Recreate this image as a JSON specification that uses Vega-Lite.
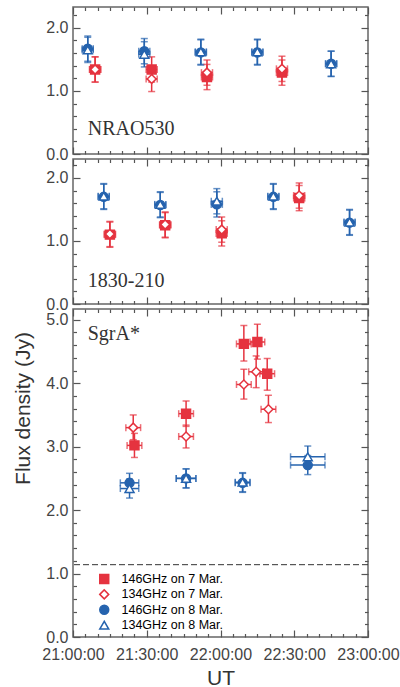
{
  "$schema": "https://vega.github.io/schema/vega-lite/v6.json",
  "padding": {"left": 12, "top": 5, "right": 5, "bottom": 0},
  "background": "white",
  "spacing": 5,
  "bounds": "flush",
  "config": {
    "view": {"stroke": "#666", "strokeWidth": 1.5},
    "axis": {"domain": false, "grid": false, "labelFont": "Liberation Sans", "labelFontSize": 16, "labelColor": "#444", "tickColor": "#555", "tickWidth": 1.2, "titleFont": "Liberation Sans", "titleFontSize": 21, "titleFontWeight": "normal", "titleColor": "#333"}
  },
  "resolve": {"scale": {"y": "independent"}, "legend": {"shape": "independent", "fill": "independent", "stroke": "independent", "color": "independent"}},
  "datasets": {
    "obs": [
      {"src":"NRAO530","series":"146GHz on 8 Mar.","t":"2000-01-01T21:06:00","t0":"2000-01-01T21:03:45","t1":"2000-01-01T21:08:15","f":1.67,"f0":1.47,"f1":1.87},
      {"src":"NRAO530","series":"134GHz on 8 Mar.","t":"2000-01-01T21:06:00","t0":"2000-01-01T21:03:45","t1":"2000-01-01T21:08:15","f":1.65,"f0":1.45,"f1":1.85},
      {"src":"NRAO530","series":"146GHz on 7 Mar.","t":"2000-01-01T21:09:00","t0":"2000-01-01T21:06:45","t1":"2000-01-01T21:11:15","f":1.34,"f0":1.14,"f1":1.54},
      {"src":"NRAO530","series":"134GHz on 7 Mar.","t":"2000-01-01T21:09:00","t0":"2000-01-01T21:06:45","t1":"2000-01-01T21:11:15","f":1.34,"f0":1.14,"f1":1.54},
      {"src":"NRAO530","series":"146GHz on 8 Mar.","t":"2000-01-01T21:29:00","t0":"2000-01-01T21:26:45","t1":"2000-01-01T21:31:15","f":1.63,"f0":1.43,"f1":1.83},
      {"src":"NRAO530","series":"134GHz on 8 Mar.","t":"2000-01-01T21:29:00","t0":"2000-01-01T21:26:45","t1":"2000-01-01T21:31:15","f":1.58,"f0":1.38,"f1":1.78},
      {"src":"NRAO530","series":"146GHz on 7 Mar.","t":"2000-01-01T21:32:00","t0":"2000-01-01T21:29:45","t1":"2000-01-01T21:34:15","f":1.34,"f0":1.14,"f1":1.54},
      {"src":"NRAO530","series":"134GHz on 7 Mar.","t":"2000-01-01T21:32:00","t0":"2000-01-01T21:29:45","t1":"2000-01-01T21:34:15","f":1.19,"f0":0.99,"f1":1.39},
      {"src":"NRAO530","series":"146GHz on 8 Mar.","t":"2000-01-01T21:52:00","t0":"2000-01-01T21:49:45","t1":"2000-01-01T21:54:15","f":1.61,"f0":1.41,"f1":1.81},
      {"src":"NRAO530","series":"134GHz on 8 Mar.","t":"2000-01-01T21:52:00","t0":"2000-01-01T21:49:45","t1":"2000-01-01T21:54:15","f":1.62,"f0":1.42,"f1":1.82},
      {"src":"NRAO530","series":"146GHz on 7 Mar.","t":"2000-01-01T21:54:30","t0":"2000-01-01T21:52:15","t1":"2000-01-01T21:56:45","f":1.22,"f0":1.02,"f1":1.42},
      {"src":"NRAO530","series":"134GHz on 7 Mar.","t":"2000-01-01T21:54:30","t0":"2000-01-01T21:52:15","t1":"2000-01-01T21:56:45","f":1.29,"f0":1.09,"f1":1.49},
      {"src":"NRAO530","series":"146GHz on 8 Mar.","t":"2000-01-01T22:15:00","t0":"2000-01-01T22:12:45","t1":"2000-01-01T22:17:15","f":1.61,"f0":1.41,"f1":1.81},
      {"src":"NRAO530","series":"134GHz on 8 Mar.","t":"2000-01-01T22:15:00","t0":"2000-01-01T22:12:45","t1":"2000-01-01T22:17:15","f":1.62,"f0":1.42,"f1":1.82},
      {"src":"NRAO530","series":"146GHz on 7 Mar.","t":"2000-01-01T22:25:00","t0":"2000-01-01T22:22:45","t1":"2000-01-01T22:27:15","f":1.29,"f0":1.09,"f1":1.49},
      {"src":"NRAO530","series":"134GHz on 7 Mar.","t":"2000-01-01T22:25:00","t0":"2000-01-01T22:22:45","t1":"2000-01-01T22:27:15","f":1.35,"f0":1.15,"f1":1.55},
      {"src":"NRAO530","series":"146GHz on 8 Mar.","t":"2000-01-01T22:45:00","t0":"2000-01-01T22:42:45","t1":"2000-01-01T22:47:15","f":1.43,"f0":1.23,"f1":1.63},
      {"src":"NRAO530","series":"134GHz on 8 Mar.","t":"2000-01-01T22:45:00","t0":"2000-01-01T22:42:45","t1":"2000-01-01T22:47:15","f":1.43,"f0":1.23,"f1":1.63},

      {"src":"1830-210","series":"146GHz on 8 Mar.","t":"2000-01-01T21:12:30","t0":"2000-01-01T21:10:15","t1":"2000-01-01T21:14:45","f":1.70,"f0":1.50,"f1":1.90},
      {"src":"1830-210","series":"134GHz on 8 Mar.","t":"2000-01-01T21:12:30","t0":"2000-01-01T21:10:15","t1":"2000-01-01T21:14:45","f":1.71,"f0":1.51,"f1":1.91},
      {"src":"1830-210","series":"146GHz on 7 Mar.","t":"2000-01-01T21:15:00","t0":"2000-01-01T21:12:45","t1":"2000-01-01T21:17:15","f":1.10,"f0":0.90,"f1":1.30},
      {"src":"1830-210","series":"134GHz on 7 Mar.","t":"2000-01-01T21:15:00","t0":"2000-01-01T21:12:45","t1":"2000-01-01T21:17:15","f":1.11,"f0":0.91,"f1":1.31},
      {"src":"1830-210","series":"146GHz on 8 Mar.","t":"2000-01-01T21:35:30","t0":"2000-01-01T21:33:15","t1":"2000-01-01T21:37:45","f":1.57,"f0":1.37,"f1":1.77},
      {"src":"1830-210","series":"134GHz on 8 Mar.","t":"2000-01-01T21:35:30","t0":"2000-01-01T21:33:15","t1":"2000-01-01T21:37:45","f":1.58,"f0":1.38,"f1":1.78},
      {"src":"1830-210","series":"146GHz on 7 Mar.","t":"2000-01-01T21:37:30","t0":"2000-01-01T21:35:15","t1":"2000-01-01T21:39:45","f":1.25,"f0":1.05,"f1":1.45},
      {"src":"1830-210","series":"134GHz on 7 Mar.","t":"2000-01-01T21:37:30","t0":"2000-01-01T21:35:15","t1":"2000-01-01T21:39:45","f":1.26,"f0":1.06,"f1":1.46},
      {"src":"1830-210","series":"146GHz on 8 Mar.","t":"2000-01-01T21:58:30","t0":"2000-01-01T21:56:15","t1":"2000-01-01T22:00:45","f":1.58,"f0":1.38,"f1":1.78},
      {"src":"1830-210","series":"134GHz on 8 Mar.","t":"2000-01-01T21:58:30","t0":"2000-01-01T21:56:15","t1":"2000-01-01T22:00:45","f":1.63,"f0":1.43,"f1":1.83},
      {"src":"1830-210","series":"146GHz on 7 Mar.","t":"2000-01-01T22:00:30","t0":"2000-01-01T21:58:15","t1":"2000-01-01T22:02:45","f":1.12,"f0":0.92,"f1":1.32},
      {"src":"1830-210","series":"134GHz on 7 Mar.","t":"2000-01-01T22:00:30","t0":"2000-01-01T21:58:15","t1":"2000-01-01T22:02:45","f":1.18,"f0":0.98,"f1":1.38},
      {"src":"1830-210","series":"146GHz on 8 Mar.","t":"2000-01-01T22:21:30","t0":"2000-01-01T22:19:15","t1":"2000-01-01T22:23:45","f":1.70,"f0":1.50,"f1":1.90},
      {"src":"1830-210","series":"134GHz on 8 Mar.","t":"2000-01-01T22:21:30","t0":"2000-01-01T22:19:15","t1":"2000-01-01T22:23:45","f":1.71,"f0":1.51,"f1":1.91},
      {"src":"1830-210","series":"146GHz on 7 Mar.","t":"2000-01-01T22:32:00","t0":"2000-01-01T22:29:45","t1":"2000-01-01T22:34:15","f":1.68,"f0":1.48,"f1":1.88},
      {"src":"1830-210","series":"134GHz on 7 Mar.","t":"2000-01-01T22:32:00","t0":"2000-01-01T22:29:45","t1":"2000-01-01T22:34:15","f":1.72,"f0":1.52,"f1":1.92},
      {"src":"1830-210","series":"146GHz on 8 Mar.","t":"2000-01-01T22:52:30","t0":"2000-01-01T22:50:15","t1":"2000-01-01T22:54:45","f":1.29,"f0":1.09,"f1":1.49},
      {"src":"1830-210","series":"134GHz on 8 Mar.","t":"2000-01-01T22:52:30","t0":"2000-01-01T22:50:15","t1":"2000-01-01T22:54:45","f":1.30,"f0":1.10,"f1":1.50},

      {"src":"SgrA*","series":"146GHz on 7 Mar.","t":"2000-01-01T21:25:00","t0":"2000-01-01T21:22:00","t1":"2000-01-01T21:28:00","f":3.02,"f0":2.83,"f1":3.21},
      {"src":"SgrA*","series":"134GHz on 7 Mar.","t":"2000-01-01T21:24:30","t0":"2000-01-01T21:21:30","t1":"2000-01-01T21:27:30","f":3.30,"f0":3.11,"f1":3.50},
      {"src":"SgrA*","series":"146GHz on 7 Mar.","t":"2000-01-01T21:46:00","t0":"2000-01-01T21:43:00","t1":"2000-01-01T21:49:00","f":3.52,"f0":3.32,"f1":3.72},
      {"src":"SgrA*","series":"134GHz on 7 Mar.","t":"2000-01-01T21:46:00","t0":"2000-01-01T21:43:00","t1":"2000-01-01T21:49:00","f":3.16,"f0":2.98,"f1":3.34},
      {"src":"SgrA*","series":"146GHz on 7 Mar.","t":"2000-01-01T22:09:30","t0":"2000-01-01T22:06:30","t1":"2000-01-01T22:12:30","f":4.62,"f0":4.35,"f1":4.91},
      {"src":"SgrA*","series":"134GHz on 7 Mar.","t":"2000-01-01T22:09:30","t0":"2000-01-01T22:06:30","t1":"2000-01-01T22:12:30","f":3.98,"f0":3.75,"f1":4.22},
      {"src":"SgrA*","series":"146GHz on 7 Mar.","t":"2000-01-01T22:15:00","t0":"2000-01-01T22:12:00","t1":"2000-01-01T22:18:00","f":4.65,"f0":4.38,"f1":4.93},
      {"src":"SgrA*","series":"134GHz on 7 Mar.","t":"2000-01-01T22:14:30","t0":"2000-01-01T22:11:30","t1":"2000-01-01T22:17:30","f":4.18,"f0":3.93,"f1":4.43},
      {"src":"SgrA*","series":"146GHz on 7 Mar.","t":"2000-01-01T22:19:00","t0":"2000-01-01T22:16:00","t1":"2000-01-01T22:22:00","f":4.15,"f0":3.89,"f1":4.39},
      {"src":"SgrA*","series":"134GHz on 7 Mar.","t":"2000-01-01T22:19:30","t0":"2000-01-01T22:16:30","t1":"2000-01-01T22:22:30","f":3.59,"f0":3.38,"f1":3.81},
      {"src":"SgrA*","series":"146GHz on 8 Mar.","t":"2000-01-01T21:23:00","t0":"2000-01-01T21:19:15","t1":"2000-01-01T21:26:45","f":2.43,"f0":2.28,"f1":2.58},
      {"src":"SgrA*","series":"134GHz on 8 Mar.","t":"2000-01-01T21:23:00","t0":"2000-01-01T21:19:15","t1":"2000-01-01T21:26:45","f":2.34,"f0":2.19,"f1":2.49},
      {"src":"SgrA*","series":"146GHz on 8 Mar.","t":"2000-01-01T21:46:00","t0":"2000-01-01T21:42:00","t1":"2000-01-01T21:50:00","f":2.50,"f0":2.35,"f1":2.65},
      {"src":"SgrA*","series":"134GHz on 8 Mar.","t":"2000-01-01T21:46:00","t0":"2000-01-01T21:42:00","t1":"2000-01-01T21:50:00","f":2.50,"f0":2.35,"f1":2.65},
      {"src":"SgrA*","series":"146GHz on 8 Mar.","t":"2000-01-01T22:09:00","t0":"2000-01-01T22:06:00","t1":"2000-01-01T22:12:00","f":2.43,"f0":2.28,"f1":2.58},
      {"src":"SgrA*","series":"134GHz on 8 Mar.","t":"2000-01-01T22:09:00","t0":"2000-01-01T22:06:00","t1":"2000-01-01T22:12:00","f":2.44,"f0":2.29,"f1":2.59},
      {"src":"SgrA*","series":"146GHz on 8 Mar.","t":"2000-01-01T22:35:30","t0":"2000-01-01T22:28:30","t1":"2000-01-01T22:42:30","f":2.71,"f0":2.56,"f1":2.86},
      {"src":"SgrA*","series":"134GHz on 8 Mar.","t":"2000-01-01T22:35:30","t0":"2000-01-01T22:28:30","t1":"2000-01-01T22:42:30","f":2.84,"f0":2.68,"f1":3.01}
    ]
  },
  "data": {"name": "obs"},
  "vconcat": [
    {
      "width": 295, "height": 147,
      "transform": [{"filter": "datum.src === 'NRAO530'"}],
      "resolve": {"axis": {"x": "independent", "y": "independent"}},
      "layer": [
        {"mark": {"type": "rule", "strokeWidth": 1.5},
         "encoding": {
           "x": {"field": "t", "type": "temporal", "scale": {"domain": [{"year":2000,"month":1,"date":1,"hours":21},{"year":2000,"month":1,"date":1,"hours":23}]},
                 "axis": {"orient": "bottom", "title": null, "labels": false, "values": [{"year":2000,"month":1,"date":1,"hours":21,"minutes":0},{"year":2000,"month":1,"date":1,"hours":21,"minutes":30},{"year":2000,"month":1,"date":1,"hours":22,"minutes":0},{"year":2000,"month":1,"date":1,"hours":22,"minutes":30},{"year":2000,"month":1,"date":1,"hours":23,"minutes":0}], "tickSize": 7, "offset": -7}},
           "y": {"field": "f0", "type": "quantitative", "scale": {"domain": [0, 2.33], "nice": false},
                 "axis": {"orient": "left", "title": null, "values": [0, 1, 2], "format": ".1f", "labelOverlap": false, "labelFlush": false, "labelPadding": 5, "tickSize": 7, "offset": -7}},
           "y2": {"field": "f1"},
           "color": {"field": "series", "type": "nominal", "scale": {"domain": ["146GHz on 8 Mar.","134GHz on 8 Mar.","146GHz on 7 Mar.","134GHz on 7 Mar."], "range": ["#2563ae","#2563ae","#e5333f","#e5333f"]}, "legend": null}
         }},
        {"mark": {"type": "rule", "strokeWidth": 1.5},
         "encoding": {
           "x": {"field": "t0", "type": "temporal", "axis": {"orient": "top", "title": null, "labels": false, "values": [{"year":2000,"month":1,"date":1,"hours":21,"minutes":0},{"year":2000,"month":1,"date":1,"hours":21,"minutes":30},{"year":2000,"month":1,"date":1,"hours":22,"minutes":0},{"year":2000,"month":1,"date":1,"hours":22,"minutes":30},{"year":2000,"month":1,"date":1,"hours":23,"minutes":0}], "tickSize": 7, "offset": -7}},
           "x2": {"field": "t1"},
           "y": {"field": "f", "type": "quantitative", "axis": {"orient": "right", "title": null, "labels": false, "values": [0, 1, 2], "tickSize": 7, "offset": -7}},
           "color": {"field": "series", "type": "nominal", "legend": null}
         }},
        {"mark": {"type": "tick", "orient": "horizontal", "size": 7, "thickness": 1.5},
         "encoding": {"x": {"field": "t", "type": "temporal", "axis": {"orient": "bottom", "title": null, "labels": false, "values": [{"year":2000,"month":1,"date":1,"hours":21,"minutes":5},{"year":2000,"month":1,"date":1,"hours":21,"minutes":10},{"year":2000,"month":1,"date":1,"hours":21,"minutes":15},{"year":2000,"month":1,"date":1,"hours":21,"minutes":20},{"year":2000,"month":1,"date":1,"hours":21,"minutes":25},{"year":2000,"month":1,"date":1,"hours":21,"minutes":35},{"year":2000,"month":1,"date":1,"hours":21,"minutes":40},{"year":2000,"month":1,"date":1,"hours":21,"minutes":45},{"year":2000,"month":1,"date":1,"hours":21,"minutes":50},{"year":2000,"month":1,"date":1,"hours":21,"minutes":55},{"year":2000,"month":1,"date":1,"hours":22,"minutes":5},{"year":2000,"month":1,"date":1,"hours":22,"minutes":10},{"year":2000,"month":1,"date":1,"hours":22,"minutes":15},{"year":2000,"month":1,"date":1,"hours":22,"minutes":20},{"year":2000,"month":1,"date":1,"hours":22,"minutes":25},{"year":2000,"month":1,"date":1,"hours":22,"minutes":35},{"year":2000,"month":1,"date":1,"hours":22,"minutes":40},{"year":2000,"month":1,"date":1,"hours":22,"minutes":45},{"year":2000,"month":1,"date":1,"hours":22,"minutes":50},{"year":2000,"month":1,"date":1,"hours":22,"minutes":55}], "tickSize": 3.5, "offset": -3.5}},
           "y": {"field": "f0", "type": "quantitative", "axis": {"orient": "left", "title": null, "labels": false, "values": [0.2,0.4,0.6,0.8,1.2,1.4,1.6,1.8,2.2], "tickSize": 3.5, "offset": -3.5}},
           "color": {"field": "series", "type": "nominal", "legend": null}}},
        {"mark": {"type": "tick", "orient": "horizontal", "size": 7, "thickness": 1.5},
         "encoding": {"x": {"field": "t", "type": "temporal", "axis": {"orient": "top", "title": null, "labels": false, "values": [{"year":2000,"month":1,"date":1,"hours":21,"minutes":5},{"year":2000,"month":1,"date":1,"hours":21,"minutes":10},{"year":2000,"month":1,"date":1,"hours":21,"minutes":15},{"year":2000,"month":1,"date":1,"hours":21,"minutes":20},{"year":2000,"month":1,"date":1,"hours":21,"minutes":25},{"year":2000,"month":1,"date":1,"hours":21,"minutes":35},{"year":2000,"month":1,"date":1,"hours":21,"minutes":40},{"year":2000,"month":1,"date":1,"hours":21,"minutes":45},{"year":2000,"month":1,"date":1,"hours":21,"minutes":50},{"year":2000,"month":1,"date":1,"hours":21,"minutes":55},{"year":2000,"month":1,"date":1,"hours":22,"minutes":5},{"year":2000,"month":1,"date":1,"hours":22,"minutes":10},{"year":2000,"month":1,"date":1,"hours":22,"minutes":15},{"year":2000,"month":1,"date":1,"hours":22,"minutes":20},{"year":2000,"month":1,"date":1,"hours":22,"minutes":25},{"year":2000,"month":1,"date":1,"hours":22,"minutes":35},{"year":2000,"month":1,"date":1,"hours":22,"minutes":40},{"year":2000,"month":1,"date":1,"hours":22,"minutes":45},{"year":2000,"month":1,"date":1,"hours":22,"minutes":50},{"year":2000,"month":1,"date":1,"hours":22,"minutes":55}], "tickSize": 3.5, "offset": -3.5}},
           "y": {"field": "f1", "type": "quantitative", "axis": {"orient": "right", "title": null, "labels": false, "values": [0.2,0.4,0.6,0.8,1.2,1.4,1.6,1.8,2.2], "tickSize": 3.5, "offset": -3.5}},
           "color": {"field": "series", "type": "nominal", "legend": null}}},
        {"mark": {"type": "tick", "orient": "vertical", "size": 7, "thickness": 1.5},
         "encoding": {"x": {"field": "t0", "type": "temporal", "axis": null}, "y": {"field": "f", "type": "quantitative", "axis": null},
           "color": {"field": "series", "type": "nominal", "legend": null}}},
        {"mark": {"type": "tick", "orient": "vertical", "size": 7, "thickness": 1.5},
         "encoding": {"x": {"field": "t1", "type": "temporal", "axis": null}, "y": {"field": "f", "type": "quantitative", "axis": null},
           "color": {"field": "series", "type": "nominal", "legend": null}}},
        {"mark": {"type": "point", "size": 80, "strokeWidth": 1.5, "opacity": 1},
         "encoding": {"x": {"field": "t", "type": "temporal", "axis": null}, "y": {"field": "f", "type": "quantitative", "axis": null},
           "shape": {"field": "series", "type": "nominal", "scale": {"domain": ["146GHz on 7 Mar.","134GHz on 7 Mar.","146GHz on 8 Mar.","134GHz on 8 Mar."], "range": ["square","diamond","circle","triangle-up"]}, "legend": null},
           "fill": {"field": "series", "type": "nominal", "scale": {"domain": ["146GHz on 7 Mar.","134GHz on 7 Mar.","146GHz on 8 Mar.","134GHz on 8 Mar."], "range": ["#e5333f","white","#2563ae","white"]}, "legend": null},
           "stroke": {"field": "series", "type": "nominal", "scale": {"domain": ["146GHz on 7 Mar.","134GHz on 7 Mar.","146GHz on 8 Mar.","134GHz on 8 Mar."], "range": ["#e5333f","#e5333f","#2563ae","#2563ae"]}, "legend": null}}},
        {"data": {"values": [{"src": "NRAO530", "name": "NRAO530", "t": "2000-01-01T21:06:00", "f": 0.40}]},
         "mark": {"type": "text", "align": "left", "baseline": "middle", "font": "Liberation Serif", "fontSize": 20, "color": "#333"},
         "encoding": {"x": {"field": "t", "type": "temporal", "axis": null}, "y": {"field": "f", "type": "quantitative", "axis": null}, "text": {"field": "name"}}}
      ]
    },
    {
      "width": 295, "height": 145,
      "transform": [{"filter": "datum.src === '1830-210'"}],
      "resolve": {"axis": {"x": "independent", "y": "independent"}},
      "layer": [
        {"mark": {"type": "rule", "strokeWidth": 1.5},
         "encoding": {
           "x": {"field": "t", "type": "temporal", "scale": {"domain": [{"year":2000,"month":1,"date":1,"hours":21},{"year":2000,"month":1,"date":1,"hours":23}]},
                 "axis": {"orient": "bottom", "title": null, "labels": false, "values": [{"year":2000,"month":1,"date":1,"hours":21,"minutes":0},{"year":2000,"month":1,"date":1,"hours":21,"minutes":30},{"year":2000,"month":1,"date":1,"hours":22,"minutes":0},{"year":2000,"month":1,"date":1,"hours":22,"minutes":30},{"year":2000,"month":1,"date":1,"hours":23,"minutes":0}], "tickSize": 7, "offset": -7}},
           "y": {"field": "f0", "type": "quantitative", "scale": {"domain": [0, 2.3], "nice": false},
                 "axis": {"orient": "left", "title": null, "values": [0, 1, 2], "format": ".1f", "labelOverlap": false, "labelFlush": false, "labelPadding": 5, "tickSize": 7, "offset": -7}},
           "y2": {"field": "f1"},
           "color": {"field": "series", "type": "nominal", "scale": {"domain": ["146GHz on 8 Mar.","134GHz on 8 Mar.","146GHz on 7 Mar.","134GHz on 7 Mar."], "range": ["#2563ae","#2563ae","#e5333f","#e5333f"]}, "legend": null}
         }},
        {"mark": {"type": "rule", "strokeWidth": 1.5},
         "encoding": {
           "x": {"field": "t0", "type": "temporal", "axis": {"orient": "top", "title": null, "labels": false, "values": [{"year":2000,"month":1,"date":1,"hours":21,"minutes":0},{"year":2000,"month":1,"date":1,"hours":21,"minutes":30},{"year":2000,"month":1,"date":1,"hours":22,"minutes":0},{"year":2000,"month":1,"date":1,"hours":22,"minutes":30},{"year":2000,"month":1,"date":1,"hours":23,"minutes":0}], "tickSize": 7, "offset": -7}},
           "x2": {"field": "t1"},
           "y": {"field": "f", "type": "quantitative", "axis": {"orient": "right", "title": null, "labels": false, "values": [0, 1, 2], "tickSize": 7, "offset": -7}},
           "color": {"field": "series", "type": "nominal", "legend": null}
         }},
        {"mark": {"type": "tick", "orient": "horizontal", "size": 7, "thickness": 1.5},
         "encoding": {"x": {"field": "t", "type": "temporal", "axis": {"orient": "bottom", "title": null, "labels": false, "values": [{"year":2000,"month":1,"date":1,"hours":21,"minutes":5},{"year":2000,"month":1,"date":1,"hours":21,"minutes":10},{"year":2000,"month":1,"date":1,"hours":21,"minutes":15},{"year":2000,"month":1,"date":1,"hours":21,"minutes":20},{"year":2000,"month":1,"date":1,"hours":21,"minutes":25},{"year":2000,"month":1,"date":1,"hours":21,"minutes":35},{"year":2000,"month":1,"date":1,"hours":21,"minutes":40},{"year":2000,"month":1,"date":1,"hours":21,"minutes":45},{"year":2000,"month":1,"date":1,"hours":21,"minutes":50},{"year":2000,"month":1,"date":1,"hours":21,"minutes":55},{"year":2000,"month":1,"date":1,"hours":22,"minutes":5},{"year":2000,"month":1,"date":1,"hours":22,"minutes":10},{"year":2000,"month":1,"date":1,"hours":22,"minutes":15},{"year":2000,"month":1,"date":1,"hours":22,"minutes":20},{"year":2000,"month":1,"date":1,"hours":22,"minutes":25},{"year":2000,"month":1,"date":1,"hours":22,"minutes":35},{"year":2000,"month":1,"date":1,"hours":22,"minutes":40},{"year":2000,"month":1,"date":1,"hours":22,"minutes":45},{"year":2000,"month":1,"date":1,"hours":22,"minutes":50},{"year":2000,"month":1,"date":1,"hours":22,"minutes":55}], "tickSize": 3.5, "offset": -3.5}},
           "y": {"field": "f0", "type": "quantitative", "axis": {"orient": "left", "title": null, "labels": false, "values": [0.2,0.4,0.6,0.8,1.2,1.4,1.6,1.8,2.2], "tickSize": 3.5, "offset": -3.5}},
           "color": {"field": "series", "type": "nominal", "legend": null}}},
        {"mark": {"type": "tick", "orient": "horizontal", "size": 7, "thickness": 1.5},
         "encoding": {"x": {"field": "t", "type": "temporal", "axis": {"orient": "top", "title": null, "labels": false, "values": [{"year":2000,"month":1,"date":1,"hours":21,"minutes":5},{"year":2000,"month":1,"date":1,"hours":21,"minutes":10},{"year":2000,"month":1,"date":1,"hours":21,"minutes":15},{"year":2000,"month":1,"date":1,"hours":21,"minutes":20},{"year":2000,"month":1,"date":1,"hours":21,"minutes":25},{"year":2000,"month":1,"date":1,"hours":21,"minutes":35},{"year":2000,"month":1,"date":1,"hours":21,"minutes":40},{"year":2000,"month":1,"date":1,"hours":21,"minutes":45},{"year":2000,"month":1,"date":1,"hours":21,"minutes":50},{"year":2000,"month":1,"date":1,"hours":21,"minutes":55},{"year":2000,"month":1,"date":1,"hours":22,"minutes":5},{"year":2000,"month":1,"date":1,"hours":22,"minutes":10},{"year":2000,"month":1,"date":1,"hours":22,"minutes":15},{"year":2000,"month":1,"date":1,"hours":22,"minutes":20},{"year":2000,"month":1,"date":1,"hours":22,"minutes":25},{"year":2000,"month":1,"date":1,"hours":22,"minutes":35},{"year":2000,"month":1,"date":1,"hours":22,"minutes":40},{"year":2000,"month":1,"date":1,"hours":22,"minutes":45},{"year":2000,"month":1,"date":1,"hours":22,"minutes":50},{"year":2000,"month":1,"date":1,"hours":22,"minutes":55}], "tickSize": 3.5, "offset": -3.5}},
           "y": {"field": "f1", "type": "quantitative", "axis": {"orient": "right", "title": null, "labels": false, "values": [0.2,0.4,0.6,0.8,1.2,1.4,1.6,1.8,2.2], "tickSize": 3.5, "offset": -3.5}},
           "color": {"field": "series", "type": "nominal", "legend": null}}},
        {"mark": {"type": "tick", "orient": "vertical", "size": 7, "thickness": 1.5},
         "encoding": {"x": {"field": "t0", "type": "temporal", "axis": null}, "y": {"field": "f", "type": "quantitative", "axis": null},
           "color": {"field": "series", "type": "nominal", "legend": null}}},
        {"mark": {"type": "tick", "orient": "vertical", "size": 7, "thickness": 1.5},
         "encoding": {"x": {"field": "t1", "type": "temporal", "axis": null}, "y": {"field": "f", "type": "quantitative", "axis": null},
           "color": {"field": "series", "type": "nominal", "legend": null}}},
        {"mark": {"type": "point", "size": 80, "strokeWidth": 1.5, "opacity": 1},
         "encoding": {"x": {"field": "t", "type": "temporal", "axis": null}, "y": {"field": "f", "type": "quantitative", "axis": null},
           "shape": {"field": "series", "type": "nominal", "scale": {"domain": ["146GHz on 7 Mar.","134GHz on 7 Mar.","146GHz on 8 Mar.","134GHz on 8 Mar."], "range": ["square","diamond","circle","triangle-up"]}, "legend": null},
           "fill": {"field": "series", "type": "nominal", "scale": {"domain": ["146GHz on 7 Mar.","134GHz on 7 Mar.","146GHz on 8 Mar.","134GHz on 8 Mar."], "range": ["#e5333f","white","#2563ae","white"]}, "legend": null},
           "stroke": {"field": "series", "type": "nominal", "scale": {"domain": ["146GHz on 7 Mar.","134GHz on 7 Mar.","146GHz on 8 Mar.","134GHz on 8 Mar."], "range": ["#e5333f","#e5333f","#2563ae","#2563ae"]}, "legend": null}}},
        {"data": {"values": [{"src": "1830-210", "name": "1830-210", "t": "2000-01-01T21:06:00", "f": 0.37}]},
         "mark": {"type": "text", "align": "left", "baseline": "middle", "font": "Liberation Serif", "fontSize": 20, "color": "#333"},
         "encoding": {"x": {"field": "t", "type": "temporal", "axis": null}, "y": {"field": "f", "type": "quantitative", "axis": null}, "text": {"field": "name"}}}
      ]
    },
    {
      "width": 295, "height": 328,
      "transform": [{"filter": "datum.src === 'SgrA*'"}],
      "resolve": {"axis": {"x": "independent", "y": "independent"}},
      "layer": [
        {"mark": {"type": "rule", "strokeWidth": 1.5},
         "encoding": {
           "x": {"field": "t", "type": "temporal", "scale": {"domain": [{"year":2000,"month":1,"date":1,"hours":21},{"year":2000,"month":1,"date":1,"hours":23}]},
                 "axis": {"orient": "bottom", "title": "UT", "titlePadding": 5, "format": "%H:%M:%S", "labelFlush": false, "labelOverlap": false, "labelBound": false, "labelPadding": 9, "values": [{"year":2000,"month":1,"date":1,"hours":21,"minutes":0},{"year":2000,"month":1,"date":1,"hours":21,"minutes":30},{"year":2000,"month":1,"date":1,"hours":22,"minutes":0},{"year":2000,"month":1,"date":1,"hours":22,"minutes":30},{"year":2000,"month":1,"date":1,"hours":23,"minutes":0}], "tickSize": 7, "offset": -7}},
           "y": {"field": "f0", "type": "quantitative", "scale": {"domain": [0, 5.17], "nice": false},
                 "axis": {"orient": "left", "title": "Flux density (Jy)", "titlePadding": 12, "titleY": 99, "values": [0, 1, 2, 3, 4, 5], "format": ".1f", "labelOverlap": false, "labelFlush": false, "labelPadding": 5, "tickSize": 7, "offset": -7}},
           "y2": {"field": "f1"},
           "color": {"field": "series", "type": "nominal", "scale": {"domain": ["146GHz on 8 Mar.","134GHz on 8 Mar.","146GHz on 7 Mar.","134GHz on 7 Mar."], "range": ["#2563ae","#2563ae","#e5333f","#e5333f"]}, "legend": null}
         }},
        {"mark": {"type": "rule", "strokeWidth": 1.5},
         "encoding": {
           "x": {"field": "t0", "type": "temporal", "axis": {"orient": "top", "title": null, "labels": false, "values": [{"year":2000,"month":1,"date":1,"hours":21,"minutes":0},{"year":2000,"month":1,"date":1,"hours":21,"minutes":30},{"year":2000,"month":1,"date":1,"hours":22,"minutes":0},{"year":2000,"month":1,"date":1,"hours":22,"minutes":30},{"year":2000,"month":1,"date":1,"hours":23,"minutes":0}], "tickSize": 7, "offset": -7}},
           "x2": {"field": "t1"},
           "y": {"field": "f", "type": "quantitative", "axis": {"orient": "right", "title": null, "labels": false, "values": [0, 1, 2, 3, 4, 5], "tickSize": 7, "offset": -7}},
           "color": {"field": "series", "type": "nominal", "legend": null}
         }},
        {"mark": {"type": "tick", "orient": "horizontal", "size": 7, "thickness": 1.5},
         "encoding": {"x": {"field": "t", "type": "temporal", "axis": {"orient": "bottom", "title": null, "labels": false, "values": [{"year":2000,"month":1,"date":1,"hours":21,"minutes":5},{"year":2000,"month":1,"date":1,"hours":21,"minutes":10},{"year":2000,"month":1,"date":1,"hours":21,"minutes":15},{"year":2000,"month":1,"date":1,"hours":21,"minutes":20},{"year":2000,"month":1,"date":1,"hours":21,"minutes":25},{"year":2000,"month":1,"date":1,"hours":21,"minutes":35},{"year":2000,"month":1,"date":1,"hours":21,"minutes":40},{"year":2000,"month":1,"date":1,"hours":21,"minutes":45},{"year":2000,"month":1,"date":1,"hours":21,"minutes":50},{"year":2000,"month":1,"date":1,"hours":21,"minutes":55},{"year":2000,"month":1,"date":1,"hours":22,"minutes":5},{"year":2000,"month":1,"date":1,"hours":22,"minutes":10},{"year":2000,"month":1,"date":1,"hours":22,"minutes":15},{"year":2000,"month":1,"date":1,"hours":22,"minutes":20},{"year":2000,"month":1,"date":1,"hours":22,"minutes":25},{"year":2000,"month":1,"date":1,"hours":22,"minutes":35},{"year":2000,"month":1,"date":1,"hours":22,"minutes":40},{"year":2000,"month":1,"date":1,"hours":22,"minutes":45},{"year":2000,"month":1,"date":1,"hours":22,"minutes":50},{"year":2000,"month":1,"date":1,"hours":22,"minutes":55}], "tickSize": 3.5, "offset": -3.5}},
           "y": {"field": "f0", "type": "quantitative", "axis": {"orient": "left", "title": null, "labels": false, "values": [0.2,0.4,0.6,0.8,1.2,1.4,1.6,1.8,2.2,2.4,2.6,2.8,3.2,3.4,3.6,3.8,4.2,4.4,4.6,4.8], "tickSize": 3.5, "offset": -3.5}},
           "color": {"field": "series", "type": "nominal", "legend": null}}},
        {"mark": {"type": "tick", "orient": "horizontal", "size": 7, "thickness": 1.5},
         "encoding": {"x": {"field": "t", "type": "temporal", "axis": {"orient": "top", "title": null, "labels": false, "values": [{"year":2000,"month":1,"date":1,"hours":21,"minutes":5},{"year":2000,"month":1,"date":1,"hours":21,"minutes":10},{"year":2000,"month":1,"date":1,"hours":21,"minutes":15},{"year":2000,"month":1,"date":1,"hours":21,"minutes":20},{"year":2000,"month":1,"date":1,"hours":21,"minutes":25},{"year":2000,"month":1,"date":1,"hours":21,"minutes":35},{"year":2000,"month":1,"date":1,"hours":21,"minutes":40},{"year":2000,"month":1,"date":1,"hours":21,"minutes":45},{"year":2000,"month":1,"date":1,"hours":21,"minutes":50},{"year":2000,"month":1,"date":1,"hours":21,"minutes":55},{"year":2000,"month":1,"date":1,"hours":22,"minutes":5},{"year":2000,"month":1,"date":1,"hours":22,"minutes":10},{"year":2000,"month":1,"date":1,"hours":22,"minutes":15},{"year":2000,"month":1,"date":1,"hours":22,"minutes":20},{"year":2000,"month":1,"date":1,"hours":22,"minutes":25},{"year":2000,"month":1,"date":1,"hours":22,"minutes":35},{"year":2000,"month":1,"date":1,"hours":22,"minutes":40},{"year":2000,"month":1,"date":1,"hours":22,"minutes":45},{"year":2000,"month":1,"date":1,"hours":22,"minutes":50},{"year":2000,"month":1,"date":1,"hours":22,"minutes":55}], "tickSize": 3.5, "offset": -3.5}},
           "y": {"field": "f1", "type": "quantitative", "axis": {"orient": "right", "title": null, "labels": false, "values": [0.2,0.4,0.6,0.8,1.2,1.4,1.6,1.8,2.2,2.4,2.6,2.8,3.2,3.4,3.6,3.8,4.2,4.4,4.6,4.8], "tickSize": 3.5, "offset": -3.5}},
           "color": {"field": "series", "type": "nominal", "legend": null}}},
        {"mark": {"type": "tick", "orient": "vertical", "size": 7, "thickness": 1.5},
         "encoding": {"x": {"field": "t0", "type": "temporal", "axis": null}, "y": {"field": "f", "type": "quantitative", "axis": null},
           "color": {"field": "series", "type": "nominal", "legend": null}}},
        {"mark": {"type": "tick", "orient": "vertical", "size": 7, "thickness": 1.5},
         "encoding": {"x": {"field": "t1", "type": "temporal", "axis": null}, "y": {"field": "f", "type": "quantitative", "axis": null},
           "color": {"field": "series", "type": "nominal", "legend": null}}},
        {"mark": {"type": "point", "size": 80, "strokeWidth": 1.5, "opacity": 1},
         "encoding": {"x": {"field": "t", "type": "temporal", "axis": null}, "y": {"field": "f", "type": "quantitative", "axis": null},
           "shape": {"field": "series", "type": "nominal", "scale": {"domain": ["146GHz on 7 Mar.","134GHz on 7 Mar.","146GHz on 8 Mar.","134GHz on 8 Mar."], "range": ["square","diamond","circle","triangle-up"]},
             "legend": {"title": null, "orient": "none", "legendX": 25, "legendY": 264, "padding": 0, "symbolSize": 80, "symbolStrokeWidth": 1.5, "labelFont": "Liberation Sans", "labelFontSize": 12.5, "labelOffset": 11, "clipHeight": 12, "rowPadding": 2.4, "encode": {"labels": {"fill": {"condition": {"test": "indexof(datum.label, '7 Mar') >= 0", "value": "#e5333f"}, "value": "#2563ae"}}}}},
           "fill": {"field": "series", "type": "nominal", "scale": {"domain": ["146GHz on 7 Mar.","134GHz on 7 Mar.","146GHz on 8 Mar.","134GHz on 8 Mar."], "range": ["#e5333f","white","#2563ae","white"]},
             "legend": {"title": null, "orient": "none", "legendX": 25, "legendY": 264, "padding": 0, "symbolSize": 80, "symbolStrokeWidth": 1.5, "labelFont": "Liberation Sans", "labelFontSize": 12.5, "labelOffset": 11, "clipHeight": 12, "rowPadding": 2.4, "encode": {"labels": {"fill": {"condition": {"test": "indexof(datum.label, '7 Mar') >= 0", "value": "#e5333f"}, "value": "#2563ae"}}}}},
           "stroke": {"field": "series", "type": "nominal", "scale": {"domain": ["146GHz on 7 Mar.","134GHz on 7 Mar.","146GHz on 8 Mar.","134GHz on 8 Mar."], "range": ["#e5333f","#e5333f","#2563ae","#2563ae"]},
             "legend": {"title": null, "orient": "none", "legendX": 25, "legendY": 264, "padding": 0, "symbolSize": 80, "symbolStrokeWidth": 1.5, "labelFont": "Liberation Sans", "labelFontSize": 12.5, "labelOffset": 11, "clipHeight": 12, "rowPadding": 2.4, "encode": {"labels": {"fill": {"condition": {"test": "indexof(datum.label, '7 Mar') >= 0", "value": "#e5333f"}, "value": "#2563ae"}}}}}}},
        {"data": {"values": [{"src": "SgrA*", "level": 1.14}]},
         "mark": {"type": "rule", "strokeDash": [6, 3], "strokeWidth": 1, "color": "#333"},
         "encoding": {"y": {"field": "level", "type": "quantitative", "axis": null}}},
        {"data": {"values": [{"src": "SgrA*", "name": "SgrA*", "t": "2000-01-01T21:06:00", "f": 4.77}]},
         "mark": {"type": "text", "align": "left", "baseline": "middle", "font": "Liberation Serif", "fontSize": 20, "color": "#333"},
         "encoding": {"x": {"field": "t", "type": "temporal", "axis": null}, "y": {"field": "f", "type": "quantitative", "axis": null}, "text": {"field": "name"}}}
      ]
    }
  ]
}
